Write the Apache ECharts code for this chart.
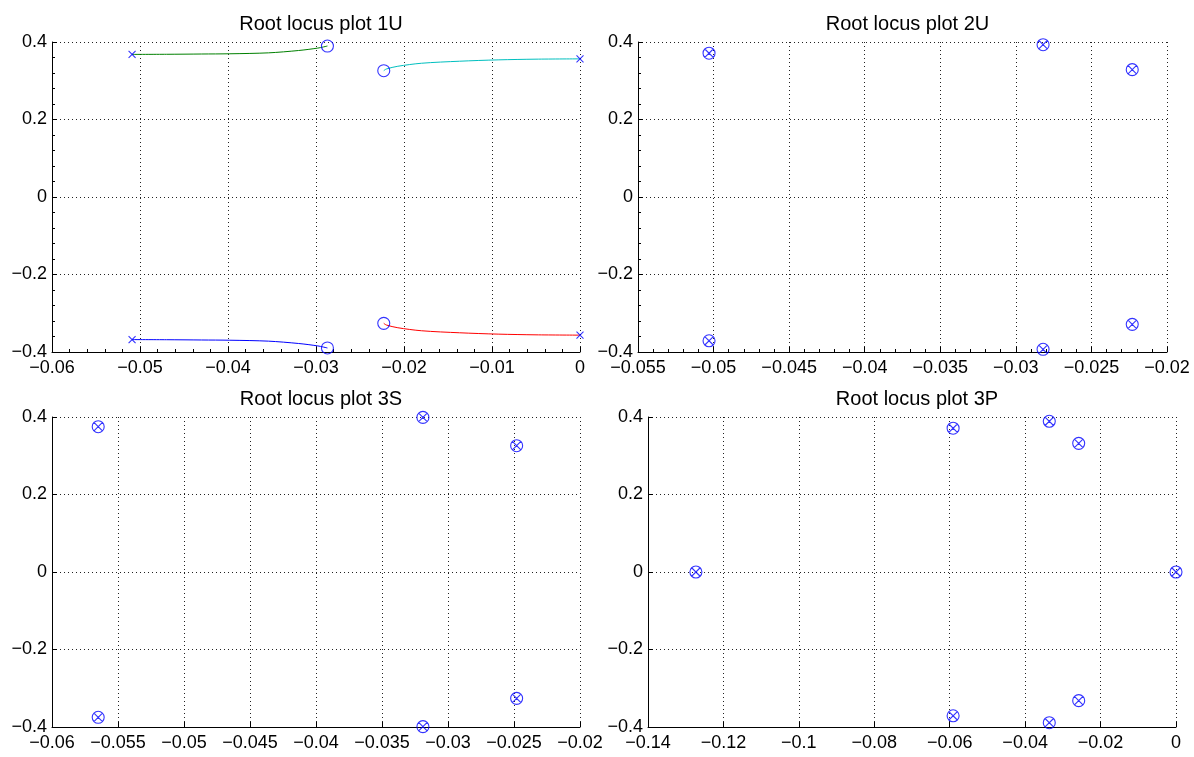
<!DOCTYPE html>
<html>
<head>
<meta charset="utf-8">
<script src="https://cdn.jsdelivr.net/npm/echarts@6/dist/echarts.min.js"></script>
<style>
html,body{margin:0;padding:0;background:#fff;}
#c{width:1194px;height:757px;}
</style>
</head>
<body>
<div id="c"></div>
<script>
// ---- data ----
const TITLES = ['Root locus plot 1U', 'Root locus plot 2U', 'Root locus plot 3S', 'Root locus plot 3P'];
const X_TICKS_1U = [-0.06, -0.05, -0.04, -0.03, -0.02, -0.01, 0];
const X_TICKS_2U = [-0.055, -0.05, -0.045, -0.04, -0.035, -0.03, -0.025, -0.02];
const X_TICKS_3S = [-0.06, -0.055, -0.05, -0.045, -0.04, -0.035, -0.03, -0.025, -0.02];
const X_TICKS_3P = [-0.14, -0.12, -0.1, -0.08, -0.06, -0.04, -0.02, 0];
const Y_TICKS = [-0.4, -0.2, 0, 0.2, 0.4];

// 1U root locus branches
const GREEN_X = [-0.0509, -0.047, -0.043, -0.0398, -0.0354, -0.032, -0.0298, -0.0287];
const GREEN_Y = [0.368, 0.3683, 0.369, 0.3696, 0.372, 0.378, 0.3843, 0.3896];
const BLUE_X  = [-0.0509, -0.047, -0.043, -0.0398, -0.0354, -0.032, -0.0298, -0.0287];
const BLUE_Y  = [-0.368, -0.3683, -0.369, -0.3696, -0.372, -0.378, -0.3843, -0.3896];
const CYAN_X  = [-0.0223, -0.022, -0.0207, -0.018, -0.0137, -0.0093, -0.005, 0];
const CYAN_Y  = [0.326, 0.3304, 0.3374, 0.3452, 0.3504, 0.3539, 0.3557, 0.3565];
const RED_X   = [-0.0223, -0.022, -0.0207, -0.018, -0.0137, -0.0093, -0.005, 0];
const RED_Y   = [-0.326, -0.3304, -0.3374, -0.3452, -0.3504, -0.3539, -0.3557, -0.3565];
const POLES_1U_X = [-0.0509, -0.0509, 0, 0];
const POLES_1U_Y = [0.368, -0.368, 0.3565, -0.3565];
const ZEROS_1U_X = [-0.0287, -0.0287, -0.0223, -0.0223];
const ZEROS_1U_Y = [0.3896, -0.3896, 0.326, -0.326];

// pole-zero (coincident) points
const PZ_2U_X = [-0.0503, -0.0503, -0.0282, -0.0282, -0.0223, -0.0223];
const PZ_2U_Y = [0.371, -0.371, 0.393, -0.393, 0.3287, -0.3287];
const PZ_3S_X = [-0.0565, -0.0565, -0.0319, -0.0319, -0.0248, -0.0248];
const PZ_3S_Y = [0.375, -0.375, 0.399, -0.399, 0.326, -0.326];
const PZ_3P_X = [-0.1273, 0, -0.0591, -0.0591, -0.0336, -0.0336, -0.0258, -0.0258];
const PZ_3P_Y = [0, 0, 0.371, -0.371, 0.389, -0.389, 0.332, -0.332];

// ---- helpers ----
const zip = (xs, ys) => xs.map((x, i) => [x, ys[i]]);
const fmt = v => String(+(+v).toFixed(4)).replace('-', '\u2212');
const FONT = '"Liberation Sans", Arial, Helvetica, sans-serif';
const GRIDS = [
  {left: 52, top: 42, width: 528, height: 310},
  {left: 638, top: 42, width: 529, height: 310},
  {left: 52, top: 417, width: 528, height: 310},
  {left: 648, top: 417, width: 528, height: 310}
];
const TITLE_TOP = [9, 9, 384, 384];
const XT = [X_TICKS_1U, X_TICKS_2U, X_TICKS_3S, X_TICKS_3P];
const MINOR = [true, true, false, false];

function axisCommon(minor) {
  return {
    axisLine: {onZero: false, lineStyle: {color: '#000', width: 1}},
    axisTick: {inside: true, length: 5, lineStyle: {color: '#000'}},
    minorTick: {show: minor, splitNumber: 5, length: 3, lineStyle: {color: '#000'}},
    splitLine: {show: true, lineStyle: {color: '#222', width: 1, type: [1, 3]}},
    axisLabel: {color: '#000', fontSize: 18, fontFamily: FONT, formatter: fmt}
  };
}

const xAxes = XT.map((t, i) => Object.assign({
  type: 'value', gridIndex: i, min: t[0], max: t[t.length - 1], interval: +(t[1] - t[0]).toFixed(4)
}, axisCommon(MINOR[i]), {axisLabel: {color: '#000', fontSize: 18, fontFamily: FONT, formatter: fmt, margin: 7, showMinLabel: true, showMaxLabel: true}}));
const yAxes = XT.map((t, i) => Object.assign({
  type: 'value', gridIndex: i, min: Y_TICKS[0], max: Y_TICKS[Y_TICKS.length - 1], interval: +(Y_TICKS[1] - Y_TICKS[0]).toFixed(4)
}, axisCommon(MINOR[i]), {axisLabel: {color: '#000', fontSize: 18, fontFamily: FONT, formatter: fmt, margin: 5}}));

const OX = 'path://M10,5A5,5,0,1,1,0,5A5,5,0,1,1,10,5Z M1.46,1.46L8.54,8.54M8.54,1.46L1.46,8.54';
const CROSS = 'path://M0,0L10,10M10,0L0,10';
const CIRC = 'path://M10,5A5,5,0,1,1,0,5A5,5,0,1,1,10,5Z';
const BLUE = '#0000ff';

function line(xs, ys, color) {
  return {type: 'line', xAxisIndex: 0, yAxisIndex: 0, data: zip(xs, ys), showSymbol: false, symbol: 'none',
    smooth: 0.3, lineStyle: {color: color, width: 1}, z: 2, silent: true, animation: false};
}
function marks(xs, ys, gi, sym, size) {
  return {type: 'scatter', xAxisIndex: gi, yAxisIndex: gi, data: zip(xs, ys), symbol: sym, symbolSize: size,
    itemStyle: {color: 'none', borderColor: BLUE, borderWidth: 1.1}, z: 3, silent: true, animation: false};
}

const option = {
  backgroundColor: '#fff',
  animation: false,
  title: TITLES.map((t, i) => ({
    text: t, left: GRIDS[i].left + GRIDS[i].width / 2, top: TITLE_TOP[i], textAlign: 'center',
    textStyle: {fontSize: 20, fontWeight: 'normal', color: '#000', fontFamily: FONT}
  })),
  grid: GRIDS,
  xAxis: xAxes,
  yAxis: yAxes,
  series: [
    line(GREEN_X, GREEN_Y, '#008000'),
    line(CYAN_X, CYAN_Y, '#00bfbf'),
    line(BLUE_X, BLUE_Y, '#0000ff'),
    line(RED_X, RED_Y, '#ff0000'),
    marks(POLES_1U_X, POLES_1U_Y, 0, CROSS, 7),
    marks(ZEROS_1U_X, ZEROS_1U_Y, 0, CIRC, 12),
    marks(PZ_2U_X, PZ_2U_Y, 1, OX, 12),
    marks(PZ_3S_X, PZ_3S_Y, 2, OX, 12),
    marks(PZ_3P_X, PZ_3P_Y, 3, OX, 12)
  ]
};
const chart = echarts.init(document.getElementById('c'), null, {renderer: 'canvas'});
chart.setOption(option);
</script>
</body>
</html>
